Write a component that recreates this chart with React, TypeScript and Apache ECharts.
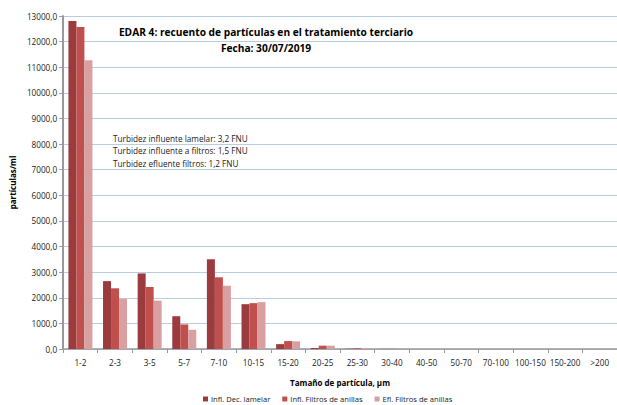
import React, { useEffect, useRef } from "react";
import * as echarts from "echarts";

const categories = ["1-2", "2-3", "3-5", "5-7", "7-10", "10-15", "15-20", "20-25", "25-30", "30-40", "40-50", "50-70", "70-100", "100-150", "150-200", ">200"];
const inflDecLamelar = [12800, 2650, 2950, 1280, 3500, 1750, 190, 40, 10, 3, 1, 0, 0, 0, 0, 0];
const inflFiltros = [12570, 2370, 2420, 960, 2800, 1790, 310, 130, 30, 4, 1, 0, 0, 0, 0, 0];
const eflFiltros = [11270, 1960, 1890, 750, 2470, 1830, 300, 130, 20, 3, 1, 0, 0, 0, 0, 0];
const seriesNames = ["Infl. Dec. lamelar", "Infl. Filtros de anillas", "Efl. Filtros de anillas"];
const colors = ["#9B3B3E", "#C0504D", "#D9A0A2"];
const annotation = [
  "Turbidez influente lamelar: 3,2 FNU",
  "Turbidez influente a filtros: 1,5 FNU",
  "Turbidez efluente filtros: 1,2 FNU",
];

const font = "'Open Sans', 'Liberation Sans', sans-serif";

export default function App() {
  const ref = useRef<HTMLDivElement>(null);
  useEffect(() => {
    const chart = echarts.init(ref.current!, null, { renderer: "svg" });
    const data = [inflDecLamelar, inflFiltros, eflFiltros];
    chart.setOption({
      animation: false,
      backgroundColor: "#ffffff",
      textStyle: { fontFamily: font },
      title: {
        text: "EDAR 4: recuento de partículas en el tratamiento terciario\nFecha: 30/07/2019",
        left: 261,
        top: 19,
        textAlign: "center",
        textStyle: { fontSize: 10.2, fontWeight: "bold", color: "#000", lineHeight: 16, fontFamily: font },
      },
      graphic: annotation.map((t, i) => ({
        type: "text",
        left: 113,
        top: 134 + i * 12.5,
        style: { text: t, fontSize: 8.2, fill: "#222", fontFamily: font },
      })),
      legend: {
        bottom: -3,
        left: 198,
        itemWidth: 5,
        itemHeight: 5,
        itemGap: 12,
        icon: "rect",
        textStyle: { fontSize: 7.6, color: "#222", fontFamily: font, padding: [0, 0, 0, -2] },
        data: seriesNames,
      },
      grid: { left: 53, right: -4, top: 16, bottom: 56 },
      xAxis: {
        type: "category",
        data: categories,
        name: "Tamaño de partícula, µm",
        nameLocation: "middle",
        nameGap: 29,
        nameTextStyle: { fontSize: 8, fontWeight: "bold", color: "#000", fontFamily: font },
        axisLine: { lineStyle: { color: "#999", width: 1.5 } },
        axisTick: { show: true, lineStyle: { color: "#999" }, length: 4 },
        axisLabel: { fontSize: 8.2, color: "#222", margin: 9, interval: 0 },
      },
      yAxis: {
        type: "value",
        min: 0,
        max: 13000,
        interval: 1000,
        name: "partículas/ml",
        nameLocation: "middle",
        nameGap: 40,
        nameTextStyle: { fontSize: 8, fontWeight: "bold", color: "#000", fontFamily: font },
        axisLine: { show: true, lineStyle: { color: "#999", width: 2 } },
        axisTick: { show: true, lineStyle: { color: "#999" }, length: 4 },
        axisLabel: {
          fontSize: 8.2,
          color: "#222",
          margin: 6,
          formatter: (v: number) => v.toFixed(1).replace(".", ","),
        },
        splitLine: { lineStyle: { color: "#B8CCE4", width: 1 } },
      },
      series: data.map((d, i) => ({
        name: seriesNames[i],
        type: "bar",
        data: d,
        barWidth: 8,
        barGap: "0%",
        itemStyle: { color: colors[i] },
      })),
    });
    return () => chart.dispose();
  }, []);
  return <div ref={ref} style={{ position: "fixed", left: 0, top: 0, width: 617, height: 405 }} />;
}
